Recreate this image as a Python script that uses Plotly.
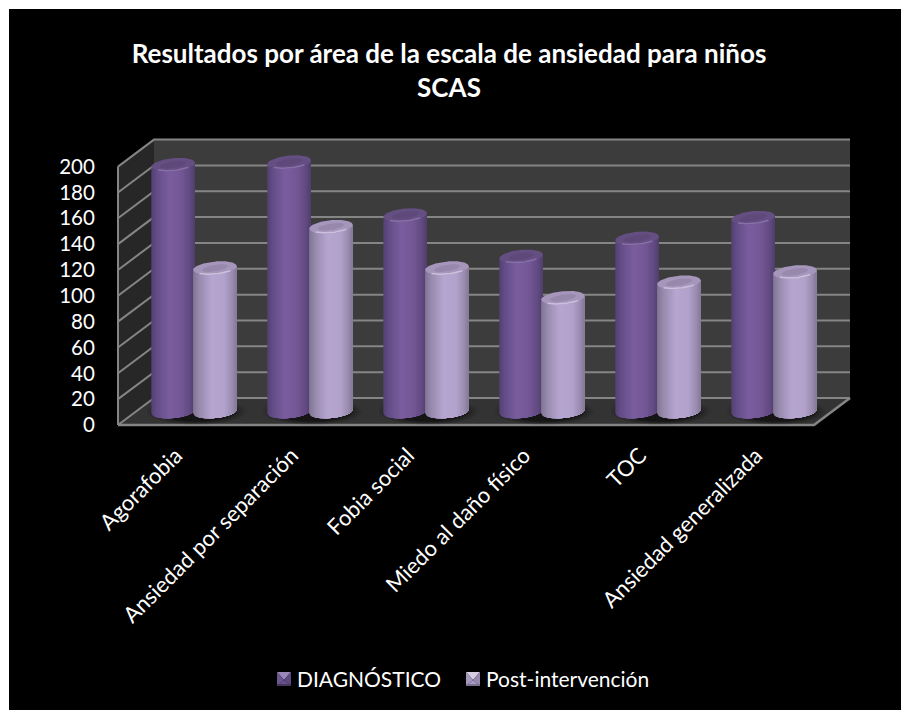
import numpy as np
import plotly.graph_objects as go

categories = ["Agorafobia", "Ansiedad por separación", "Fobia social",
              "Miedo al daño físico", "TOC", "Ansiedad generalizada"]
diagnostico = [191, 193, 152, 120, 134, 150]
post_intervencion = [111, 143, 111, 88, 100, 108]
series_names = ["DIAGNÓSTICO", "Post-intervención"]
y_ticks = list(range(0, 201, 20))

W, H = 901, 710
PLOT_L, PLOT_R, PLOT_T, PLOT_B = 9, 901, 9, 710
# pixel scale of the front plane of the 3D box
X0_PX, CAT_PX = 118, 116
Y0_PX, VAL_PX = 425, 1.292
DEPTH_X, DEPTH_Y = 36 / CAT_PX, 27 / VAL_PX

x_range = [(PLOT_L - X0_PX) / CAT_PX, (PLOT_R - X0_PX) / CAT_PX]
y_range = [(Y0_PX - PLOT_B) / VAL_PX, (Y0_PX - PLOT_T) / VAL_PX]
N_CAT = len(categories)
TOP = y_ticks[-1]

fig = go.Figure()


def poly(xs, ys, fill):
    fig.add_trace(go.Scatter(
        x=list(xs), y=list(ys), mode="lines", fill="toself", fillcolor=fill,
        line=dict(color="rgba(0,0,0,0)", width=0),
        hoverinfo="skip", showlegend=False))


def seg(xs, ys, color, width):
    fig.add_trace(go.Scatter(
        x=list(xs), y=list(ys), mode="lines", line=dict(color=color, width=width),
        hoverinfo="skip", showlegend=False))


# walls and floor of the box
poly([DEPTH_X, N_CAT + DEPTH_X, N_CAT + DEPTH_X, DEPTH_X],
     [DEPTH_Y, DEPTH_Y, TOP + DEPTH_Y, TOP + DEPTH_Y], "#3c3c3c")
poly([0, DEPTH_X, DEPTH_X, 0], [0, DEPTH_Y, TOP + DEPTH_Y, TOP], "#272727")
poly([0, N_CAT, N_CAT + DEPTH_X, DEPTH_X], [0, 0, DEPTH_Y, DEPTH_Y], "#333333")

# gridlines running along the left and back walls
GRID = "#858585"
for v in y_ticks:
    seg([0, DEPTH_X, N_CAT + DEPTH_X], [v, v + DEPTH_Y, v + DEPTH_Y], GRID, 2)
seg([0, 0], [0, TOP], GRID, 2)
seg([0, N_CAT, N_CAT + DEPTH_X], [0, 0, DEPTH_Y], GRID, 2.5)

# cylinder shading: colour stops across the width (left edge to right edge)
PALETTE = {
    0: dict(stops=[(0.0, (84, 65, 114)), (0.12, (100, 77, 136)), (0.4, (122, 94, 158)),
                   (0.68, (116, 88, 150)), (0.88, (98, 75, 130)), (1.0, (82, 62, 110))],
            cap=(100, 78, 130), cap_mid=(94, 73, 122), rim=(136, 112, 168)),
    1: dict(stops=[(0.0, (128, 118, 146)), (0.14, (152, 138, 174)), (0.42, (182, 166, 208)),
                   (0.72, (178, 162, 204)), (0.9, (154, 140, 176)), (1.0, (132, 120, 150))],
            cap=(166, 150, 188), cap_mid=(152, 136, 172), rim=(204, 192, 220)),
}
RADIUS = 21.8 / CAT_PX
GROUP_OFFSET = 20.9 / CAT_PX
ELLIPSE_B = 6.6 / VAL_PX
TILT = 2.0 / VAL_PX
SLICES = 36


def rgb(c):
    return f"rgb({int(c[0])},{int(c[1])},{int(c[2])})"


def shade(stops, t):
    pos = [s[0] for s in stops]
    return [np.interp(t, pos, [s[1][k] for s in stops]) for k in range(3)]


def ellipse_y(u, base, b, sign):
    # u runs from -1 to 1 across the width; sign picks the front or back half
    return base + sign * b * np.sqrt(np.clip(1 - u * u, 0, 1)) + TILT * u


def cylinder(center, value, series):
    pal = PALETTE[series]
    base = DEPTH_Y / 2
    top = base + value
    edges = np.linspace(-1, 1, SLICES + 1)
    # each strip runs through to the right edge and the next one paints over it
    for k, a in enumerate(edges[:-1]):
        us = np.linspace(a, 1, max(3, SLICES - k))
        lower = ellipse_y(us, base, ELLIPSE_B, -1)
        upper = ellipse_y(us[::-1], top, ELLIPSE_B, -1)
        color = rgb(shade(pal["stops"], (a + 1 / SLICES + 1) / 2))
        poly(np.r_[center + RADIUS * us, center + RADIUS * us[::-1]],
             np.r_[lower, upper], color)
    # top cap with a slightly darker middle and a lit front rim
    u = np.linspace(-1, 1, 60)
    cap_x = np.r_[center + RADIUS * u, center + RADIUS * u[::-1]]
    cap_y = np.r_[ellipse_y(u, top, ELLIPSE_B, -1), ellipse_y(u[::-1], top, ELLIPSE_B, 1)]
    poly(cap_x, cap_y, rgb(pal["cap"]))
    inner_x = np.r_[center + 0.6 * RADIUS * u, center + 0.6 * RADIUS * u[::-1]]
    inner_y = np.r_[ellipse_y(u, top, 0.5 * ELLIPSE_B, -1), ellipse_y(u[::-1], top, 0.5 * ELLIPSE_B, 1)]
    poly(inner_x, inner_y, rgb(pal["cap_mid"]))
    rim_u = np.linspace(-0.7, 0.7, 40)
    seg(center + RADIUS * rim_u, ellipse_y(rim_u, top, ELLIPSE_B, -1) + 0.6, rgb(pal["rim"]), 1.5)


# soft shadows on the floor beneath each pair
t = np.linspace(0, 2 * np.pi, 60)
for i in range(N_CAT):
    cx = i + 0.5 + DEPTH_X / 2
    for scale, alpha in ((1.3, 0.08), (1.22, 0.1), (1.14, 0.14), (1.06, 0.18), (0.98, 0.25)):
        poly(cx + 0.02 + 0.33 * scale * np.cos(t),
             DEPTH_Y * 0.5 + 8 * scale * np.sin(t),
             f"rgba(0,0,0,{alpha})")

for i in range(N_CAT):
    cx = i + 0.5 + DEPTH_X / 2
    cylinder(cx - GROUP_OFFSET, diagnostico[i], 0)
    cylinder(cx + GROUP_OFFSET, post_intervencion[i], 1)

# legend keys: bevelled squares with the series name beside them
shapes = []
annotations = []
KEY_COLOURS = [
    dict(top="#9a88b8", left="#6d568f", right="#5f4a80", bottom="#463660", mid="#68528c"),
    dict(top="#d6cde3", left="#a698bd", right="#988aae", bottom="#7d7192", mid="#a99bc4"),
]
KEY_X = [277, 466]
TEXT_X = [295, 484]
KEY_TOP, KEY_SIZE, BEVEL = 672, 14, 3


def px_path(points):
    return "M" + " L".join(f"{x / W:.5f},{1 - y / H:.5f}" for x, y in points) + " Z"


for kx, tx, name, c in zip(KEY_X, TEXT_X, series_names, KEY_COLOURS):
    x0, x1, y0, y1 = kx, kx + KEY_SIZE, KEY_TOP, KEY_TOP + KEY_SIZE
    faces = [
        ([(x0, y0), (x1, y0), (x0 + KEY_SIZE / 2, y0 + KEY_SIZE / 2 + 1)], c["top"]),
        ([(x0, y0), (x0 + KEY_SIZE / 2, y0 + KEY_SIZE / 2 + 1), (x0, y1)], c["left"]),
        ([(x1, y0), (x0 + KEY_SIZE / 2, y0 + KEY_SIZE / 2 + 1), (x1, y1)], c["right"]),
        ([(x0, y1), (x0 + KEY_SIZE / 2, y0 + KEY_SIZE / 2 + 1), (x1, y1)], c["mid"]),
        ([(x0, y1), (x1, y1), (x1, y1 - BEVEL + 1), (x0, y1 - BEVEL + 1)], c["bottom"]),
    ]
    for pts, col in faces:
        shapes.append(dict(type="path", xref="paper", yref="paper", path=px_path(pts),
                           fillcolor=col, line=dict(width=0)))
    annotations.append(dict(text=name, xref="paper", yref="paper", x=tx / W, y=1 - 678 / H,
                            xanchor="left", yanchor="middle", showarrow=False,
                            font=dict(family="Lato", size=21, color="white")))

fig.update_layout(
    width=W, height=H, margin=dict(l=0, r=0, t=0, b=0),
    paper_bgcolor="white", plot_bgcolor="black",
    font=dict(family="Lato", size=20, color="white"),
    title=dict(text="<b>Resultados por área de la escala de ansiedad para niños<br>SCAS</b>",
               x=449 / W, xanchor="center", y=1 - 63 / H, yanchor="middle",
               font=dict(family="Lato", size=26, color="white")),
    showlegend=False,
    shapes=shapes,
    annotations=annotations,
    xaxis=dict(domain=[PLOT_L / W, PLOT_R / W], range=x_range, anchor="free",
               position=1 - Y0_PX / H, showgrid=False, zeroline=False, showline=False,
               tickmode="array", tickvals=[i + 0.5 for i in range(N_CAT)], ticktext=categories,
               tickangle=-45, ticks="outside", ticklen=8, tickcolor="rgba(0,0,0,0)",
               tickfont=dict(size=22, color="white")),
    yaxis=dict(domain=[1 - PLOT_B / H, 1 - PLOT_T / H], range=y_range, anchor="free",
               position=X0_PX / W, showgrid=False, zeroline=False, showline=False,
               tickmode="array", tickvals=y_ticks, ticks="outside", ticklen=19,
               tickcolor="rgba(0,0,0,0)", tickfont=dict(size=20.5, color="white")),
)

fig.write_html("out.html")
